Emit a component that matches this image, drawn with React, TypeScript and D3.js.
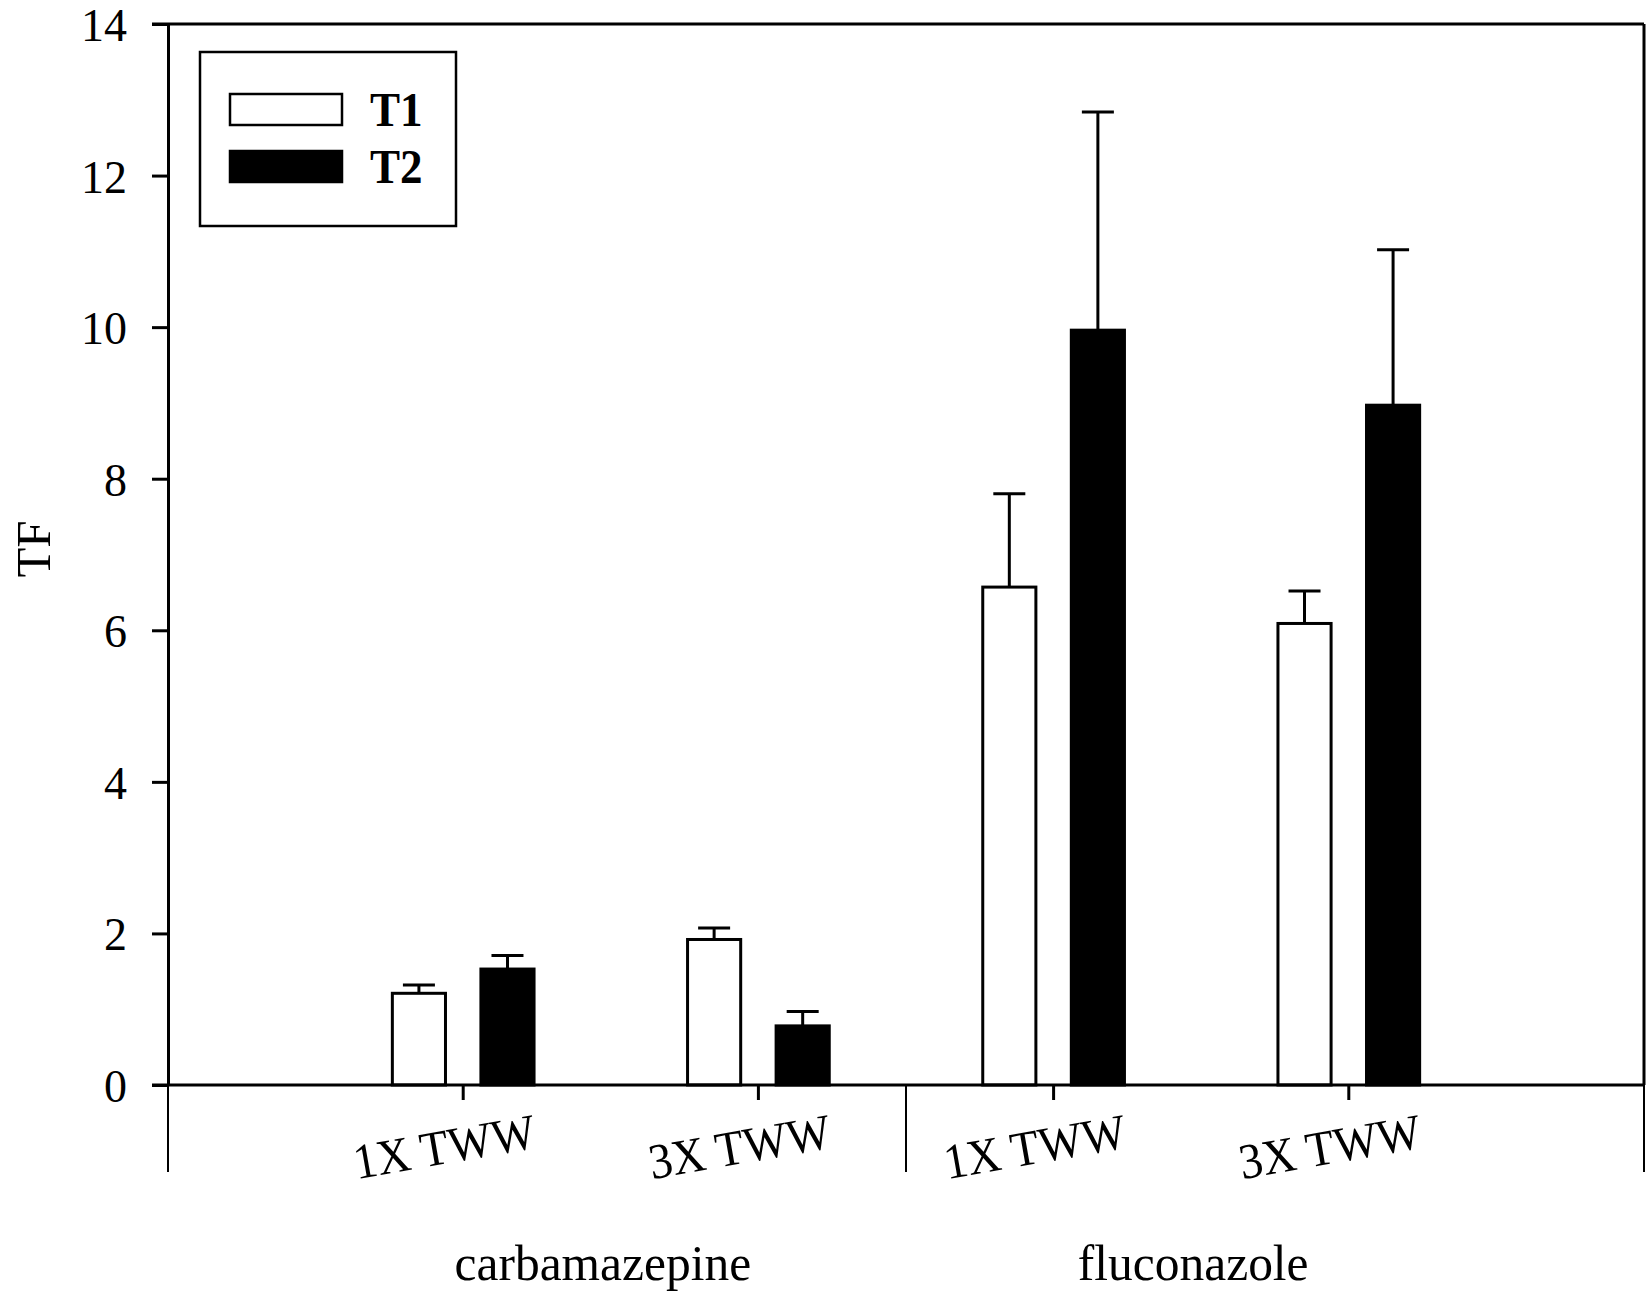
import { useEffect, useRef } from 'react';
import * as d3 from 'd3';

// chart data
const categories = ['1X TWW', '3X TWW', '1X TWW', '3X TWW'];
const groups = ['carbamazepine', 'fluconazole'];
const groupOf = [0, 0, 1, 1];
const seriesNames = ['T1', 'T2'];
const t1Values = [1.21, 1.92, 6.57, 6.09];
const t1Errors = [0.11, 0.15, 1.23, 0.43];
const t2Values = [1.53, 0.78, 9.96, 8.97];
const t2Errors = [0.18, 0.19, 2.88, 2.05];
const yTicks = [0, 2, 4, 6, 8, 10, 12, 14];

const W = 1652;
const H = 1308;
const FONT = '"Liberation Serif", "Times New Roman", serif';

export default function App() {
  const svgRef = useRef<SVGSVGElement>(null);

  useEffect(() => {
    if (!svgRef.current) return;
    const svg = d3.select(svgRef.current);
    svg.selectAll('*').remove();

    const left = 168, right = 1644, top = 24, bottom = 1085;

    // categories sit at 1..4 on a 0..5 axis
    const x = d3.scaleLinear().domain([0, categories.length + 1]).range([left, right]);
    const y = d3.scaleLinear().domain([0, 14]).range([bottom, top]);

    const barW = x(0.18) - x(0);
    const offset = x(0.15) - x(0);
    const capHalf = 16;

    // y axis
    const yAxis = d3.axisLeft(y).tickValues(yTicks).tickSize(16).tickPadding(25).tickSizeOuter(0);
    const ga = svg.append('g').attr('transform', `translate(${left},0)`).call(yAxis);
    ga.select('.domain').attr('stroke', '#000').attr('stroke-width', 3);
    ga.selectAll('.tick line').attr('stroke', '#000').attr('stroke-width', 3);
    ga.selectAll('.tick text')
      .attr('font-family', FONT)
      .attr('font-size', 46)
      .attr('dy', '0.36em')
      .attr('fill', '#000');

    // frame top + right
    svg.append('line').attr('x1', left - 16).attr('x2', right).attr('y1', top).attr('y2', top)
      .attr('stroke', '#000').attr('stroke-width', 3);
    svg.append('line').attr('x1', right).attr('x2', right).attr('y1', top).attr('y2', bottom)
      .attr('stroke', '#000').attr('stroke-width', 3);

    // bars
    const series = [
      { vals: t1Values, errs: t1Errors, fill: '#fff', dx: -offset },
      { vals: t2Values, errs: t2Errors, fill: '#000', dx: offset },
    ];
    series.forEach((s) => {
      const g = svg.append('g');
      s.vals.forEach((v, i) => {
        const cx = x(i + 1) + s.dx;
        const ex = y(v + s.errs[i]);
        g.append('line').attr('x1', cx).attr('x2', cx).attr('y1', y(v)).attr('y2', ex)
          .attr('stroke', '#000').attr('stroke-width', 3);
        g.append('line').attr('x1', cx - capHalf).attr('x2', cx + capHalf).attr('y1', ex).attr('y2', ex)
          .attr('stroke', '#000').attr('stroke-width', 3);
        g.append('rect')
          .attr('x', cx - barW / 2)
          .attr('y', y(v))
          .attr('width', barW)
          .attr('height', y(0) - y(v))
          .attr('fill', s.fill)
          .attr('stroke', '#000')
          .attr('stroke-width', 3);
      });
    });

    // x baseline
    svg.append('line').attr('x1', left - 16).attr('x2', right).attr('y1', bottom).attr('y2', bottom)
      .attr('stroke', '#000').attr('stroke-width', 3);

    // category ticks + rotated labels
    categories.forEach((c, i) => {
      const cx = x(i + 1);
      svg.append('line').attr('x1', cx).attr('x2', cx).attr('y1', bottom).attr('y2', bottom + 15)
        .attr('stroke', '#000').attr('stroke-width', 3);
      svg.append('text')
        .attr('transform', `translate(${cx - 19},${1146}) rotate(-10) scale(0.93,1)`)
        .attr('text-anchor', 'middle')
        .attr('dy', '0.35em')
        .attr('font-family', FONT)
        .attr('font-size', 50)
        .text(c);
    });

    // group separators below axis
    [0, 2.5, categories.length + 1].forEach((d) => {
      svg.append('line').attr('x1', x(d)).attr('x2', x(d)).attr('y1', bottom).attr('y2', 1172)
        .attr('stroke', '#000').attr('stroke-width', 2);
    });

    // group labels
    groups.forEach((gname, gi) => {
      const idx = groupOf.map((g, i) => (g === gi ? i + 1 : -1)).filter((i) => i > 0);
      const cx = x(d3.mean(idx) as number) - 8;
      svg.append('text')
        .attr('transform', `translate(${cx},1280) scale(0.97,1)`)
        .attr('text-anchor', 'middle')
        .attr('font-family', FONT)
        .attr('font-size', 51)
        .text(gname);
    });

    // y title
    svg.append('text')
      .attr('transform', `translate(${50},${549}) rotate(-90)`)
      .attr('text-anchor', 'middle')
      .attr('font-family', FONT)
      .attr('font-size', 49)
      .text('TF');

    // legend
    const lg = svg.append('g');
    lg.append('rect').attr('x', 200).attr('y', 52).attr('width', 256).attr('height', 174)
      .attr('fill', '#fff').attr('stroke', '#000').attr('stroke-width', 2.5);
    seriesNames.forEach((name, i) => {
      const yy = 94 + i * 57;
      lg.append('rect').attr('x', 230).attr('y', yy).attr('width', 112).attr('height', 31)
        .attr('fill', series[i].fill).attr('stroke', '#000').attr('stroke-width', 2.5);
      lg.append('text')
        .attr('transform', `translate(370,${yy + 32}) scale(0.92,1)`)
        .attr('font-family', FONT)
        .attr('font-weight', 'bold')
        .attr('font-size', 49)
        .text(name);
    });
  }, []);

  return (
    <svg
      ref={svgRef}
      width={W}
      height={H}
      style={{ position: 'absolute', left: 0, top: 0, background: '#fff', display: 'block' }}
    />
  );
}
